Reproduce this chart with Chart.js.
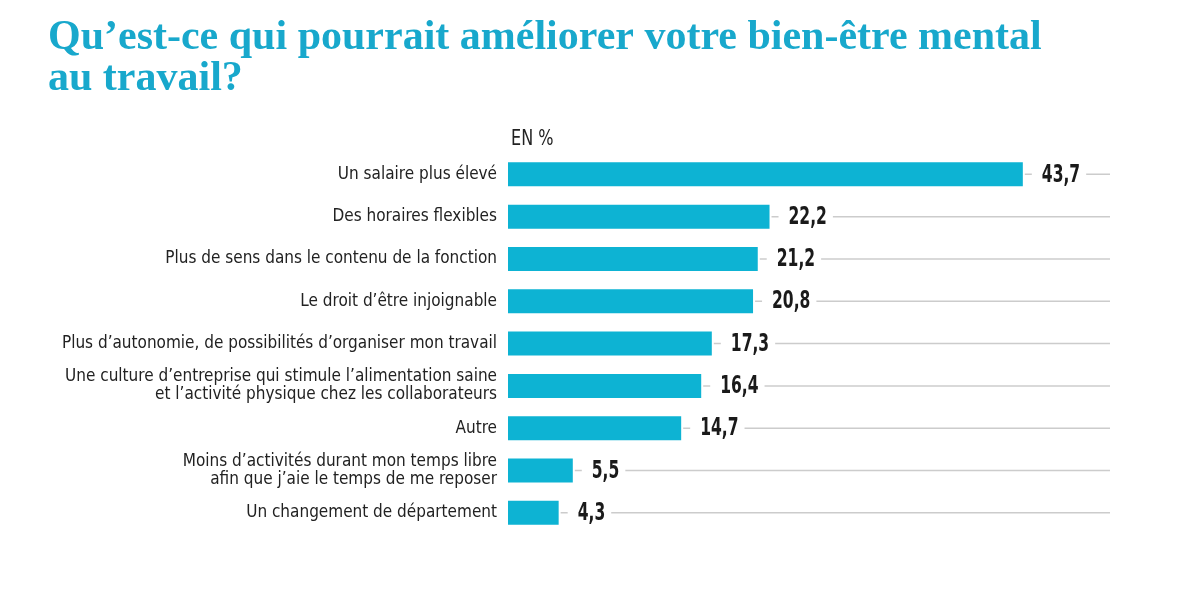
<!DOCTYPE html>
<html>
<head>
<meta charset="utf-8">
<script src="https://cdn.jsdelivr.net/npm/chart.js@4.4.0/dist/chart.umd.min.js"></script>
<style>
html,body{margin:0;padding:0;background:#fff;}
#wrap{width:1200px;height:595px;position:relative;}
</style>
</head>
<body>
<div id="wrap"><canvas id="c" width="1200" height="595"></canvas></div>
<script>
const titleLines = ["Qu\u2019est-ce qui pourrait améliorer votre bien-être mental", "au travail?"];
const unitLabel = "EN %";
const categories = [
  ["Un salaire plus élevé"],
  ["Des horaires flexibles"],
  ["Plus de sens dans le contenu de la fonction"],
  ["Le droit d\u2019être injoignable"],
  ["Plus d\u2019autonomie, de possibilités d\u2019organiser mon travail"],
  ["Une culture d\u2019entreprise qui stimule l\u2019alimentation saine", "et l\u2019activité physique chez les collaborateurs"],
  ["Autre"],
  ["Moins d\u2019activités durant mon temps libre", "afin que j\u2019aie le temps de me reposer"],
  ["Un changement de département"]
];
const values = [43.7, 22.2, 21.2, 20.8, 17.3, 16.4, 14.7, 5.5, 4.3];

function hasFont(name){
  const c = document.createElement('canvas').getContext('2d');
  const s = 'abcdefghijklmnopqrstuvwxyz0123456789';
  c.font = '30px "' + name + '", monospace'; const a = c.measureText(s).width;
  c.font = '30px "' + name + '", serif'; const b = c.measureText(s).width;
  return a === b;
}
const narrowCandidates = ['Liberation Sans Narrow','DejaVu Sans Condensed','Roboto Condensed','Open Sans Condensed','Noto Sans Condensed','Arial Narrow'];
let NARROW = 'Roboto';
for (const f of narrowCandidates){ if (hasFont(f)) { NARROW = f; break; } }
const NARROW_STACK = '"' + NARROW + '", "Liberation Sans", sans-serif';

const TEAL_BAR = '#0db3d3';
const TEAL_TITLE = '#18a8cc';

function squeezedText(ctx, txt, x, y, sx){
  ctx.save();
  ctx.translate(x, y);
  ctx.scale(sx, 1);
  ctx.fillText(txt, 0, 0);
  ctx.restore();
}

const overlay = {
  id: 'overlay',
  afterDatasetsDraw(chart){
    const ctx = chart.ctx;
    const area = chart.chartArea;
    const meta = chart.getDatasetMeta(0);
    ctx.save();
    ctx.font = 'bold 24px ' + NARROW_STACK;
    ctx.textBaseline = 'middle';
    ctx.textAlign = 'left';
    const SX = 0.72;
    meta.data.forEach((bar, i) => {
      const y = bar.y;
      ctx.strokeStyle = '#cccccc';
      ctx.lineWidth = 1.5;
      ctx.beginPath();
      ctx.moveTo(bar.x + 2, y);
      ctx.lineTo(area.right, y);
      ctx.stroke();
      const txt = values[i].toFixed(1).replace('.', ',');
      const tx = bar.x + 19;
      const w = ctx.measureText(txt).width * SX;
      ctx.fillStyle = '#ffffff';
      ctx.fillRect(tx - 10, y - 14, w + 16, 28);
      ctx.fillStyle = '#1a1a1a';
      squeezedText(ctx, txt, tx, y + 1, SX);
    });
    ctx.font = '21px ' + NARROW_STACK;
    ctx.fillStyle = '#222';
    squeezedText(ctx, unitLabel, area.left + 3, area.top - 14, 0.85);
    ctx.restore();
  }
};

new Chart(document.getElementById('c'), {
  type: 'bar',
  data: {
    labels: categories,
    datasets: [{
      data: values,
      backgroundColor: TEAL_BAR,
      borderWidth: 0,
      barPercentage: 0.567,
      categoryPercentage: 1
    }]
  },
  plugins: [overlay],
  options: {
    indexAxis: 'y',
    responsive: false,
    animation: false,
    devicePixelRatio: 1,
    layout: { padding: { left: 48, right: 90, top: 0, bottom: 61 } },
    plugins: {
      legend: { display: false },
      tooltip: { enabled: false },
      title: {
        display: true,
        text: titleLines,
        align: 'start',
        color: TEAL_TITLE,
        font: { family: '"Liberation Serif", "DejaVu Serif", serif', size: 42, weight: 'bold', lineHeight: 0.99 },
        padding: { top: 17, bottom: 53 }
      }
    },
    scales: {
      x: { type: 'linear', min: 0, max: 51.1, display: false },
      y: {
        type: 'category',
        grid: { display: false, drawTicks: false },
        border: { display: false },
        ticks: {
          color: '#222',
          padding: 11,
          font: { family: NARROW_STACK, size: 17, lineHeight: 1.05 }
        },
        afterFit(scale){ scale.width = 460; }
      }
    }
  }
});
</script>
</body>
</html>
